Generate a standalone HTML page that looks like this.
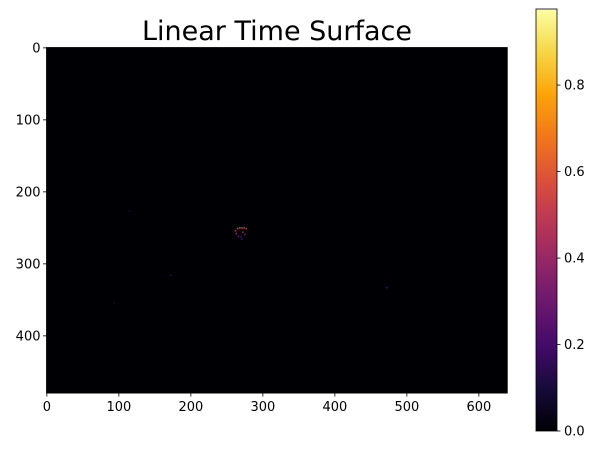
<!DOCTYPE html>
<html><head><meta charset="utf-8"><style>
body{margin:0;background:#fff;font-family:"Liberation Sans","DejaVu Sans",sans-serif}
svg text{font-family:"DejaVu Sans","Liberation Sans",sans-serif}
</style></head><body>
<svg id="chart" width="598" height="449" xmlns="http://www.w3.org/2000/svg">
<defs><linearGradient id="inferno" x1="0" y1="1" x2="0" y2="0">
<stop offset="0" stop-color="#000004"/><stop offset="0.1" stop-color="#160b39"/><stop offset="0.2" stop-color="#420a68"/><stop offset="0.3" stop-color="#6a176e"/><stop offset="0.4" stop-color="#932667"/><stop offset="0.5" stop-color="#bc3754"/><stop offset="0.6" stop-color="#dd513a"/><stop offset="0.7" stop-color="#f37819"/><stop offset="0.8" stop-color="#fca50a"/><stop offset="0.9" stop-color="#f6d746"/><stop offset="1" stop-color="#fcffa4"/></linearGradient></defs>
<text x="277" y="40" font-size="27" text-anchor="middle">Linear Time Surface</text>
<g id="plot"></g>
<rect x="536" y="9" width="21" height="422" fill="url(#inferno)" stroke="#000" stroke-width="0.8"/>
<g id="cbticks"></g>
</svg>
<script>
const xTicks=[0,100,200,300,400,500,600];
const yTicks=[0,100,200,300,400];
const cbTicks=[0.0,0.2,0.4,0.6,0.8];
const evX=[262,265,268,271,274,277,263,266,272,275,270,271,115,172,93,472];
const evY=[254,251,250,250,250,251,258,262,256,259,263,266,227,316,355,333];
const evV=[0.48,0.52,0.5,0.5,0.5,0.48,0.4,0.3,0.35,0.3,0.2,0.2,0.1,0.15,0.1,0.2];
const W=640,H=480,x0=46.5,y0=47.5,s=0.72;
const cbMax=0.976,cbTop=9,cbBot=431;
const sx=v=>x0+(v+0.5)*s, sy=v=>y0+(v+0.5)*s, cy=v=>cbBot-(v/cbMax)*(cbBot-cbTop);
const NS="http://www.w3.org/2000/svg";
function mk(t,a,p){const e=document.createElementNS(NS,t);for(const k in a)e.setAttribute(k,a[k]);p.appendChild(e);return e;}
const stops=[[0,0,0,4],[.1,22,11,57],[.2,66,10,104],[.3,106,23,110],[.4,147,38,103],[.5,188,55,84],[.6,221,81,58],[.7,243,120,25],[.8,252,165,10],[.9,246,215,70],[1,252,255,164]];
function cmap(v){for(let i=1;i<stops.length;i++){if(v<=stops[i][0]){const a=stops[i-1],b=stops[i],t=(v-a[0])/(b[0]-a[0]);return `rgb(${[1,2,3].map(j=>Math.round(a[j]+(b[j]-a[j])*t)).join(',')})`;}}return 'rgb(252,255,164)';}
const g=document.getElementById('plot');
const img=mk('rect',{x:x0,y:y0,width:W*s,height:H*s,fill:'#000004'},g);


evX.forEach((x,i)=>{const r=mk('rect',{x:sx(x)-0.8,y:sy(evY[i])-0.8,width:1.6,height:1.6,fill:cmap(evV[i]/cbMax)},g);

});
const fr=mk('rect',{x:x0,y:y0,width:W*s,height:H*s,fill:'none',stroke:'#000','stroke-width':0.8},g);


xTicks.forEach(v=>{const X=sx(v);mk('line',{x1:X,x2:X,y1:y0+H*s,y2:y0+H*s+3.5,stroke:'#000','stroke-width':0.8},g);
const t=mk('text',{x:X,y:y0+H*s+18,'font-size':13,'text-anchor':'middle'},g);t.textContent=v;

});
yTicks.forEach(v=>{const Y=sy(v);mk('line',{x1:x0-3.5,x2:x0,y1:Y,y2:Y,stroke:'#000','stroke-width':0.8},g);
const t=mk('text',{x:x0-6,y:Y+4.5,'font-size':13,'text-anchor':'end'},g);t.textContent=v;

});
const cg=document.getElementById('cbticks');
cbTicks.forEach(v=>{const Y=cy(v);mk('line',{x1:557,x2:560.5,y1:Y,y2:Y,stroke:'#000','stroke-width':0.8},cg);
const t=mk('text',{x:564,y:Y+4.5,'font-size':13},cg);t.textContent=v.toFixed(1);

});
</script>
</body></html>
